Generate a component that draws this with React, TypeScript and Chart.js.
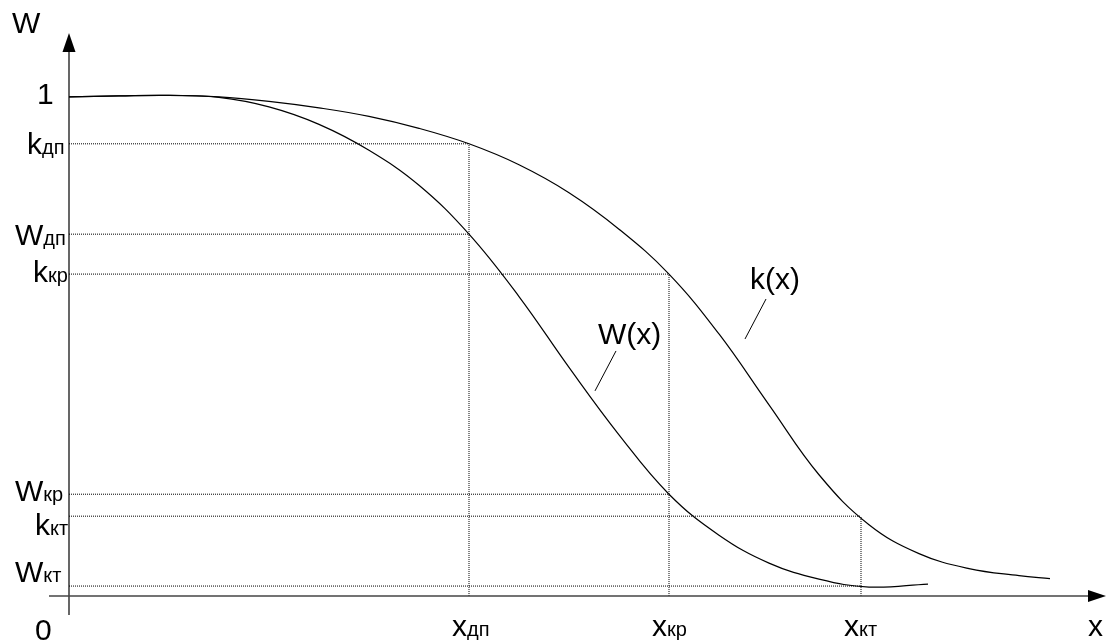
import React, { useEffect, useRef } from "react";
import { Chart, registerables } from "chart.js";

Chart.register(...registerables);

// W(x) curve
const wX = [0, 0.5, 1.0, 1.5, 2.0, 2.5, 3.0, 3.5, 4.0, 4.5, 5.0, 5.5, 6.0, 6.5, 7.0, 7.5, 8.0, 8.59];
const wY = [1.0, 1.002, 1.003, 0.999, 0.98, 0.945, 0.893, 0.823, 0.725, 0.6, 0.458, 0.323, 0.204, 0.122, 0.066, 0.034, 0.018, 0.024];

// k(x) curve
const kX = [0, 0.5, 1.0, 1.5, 2.0, 2.5, 3.0, 3.5, 4.0, 4.5, 5.0, 5.5, 6.0, 6.5, 7.0, 7.5, 8.0, 8.5, 9.0, 9.5, 9.81];
const kY = [1.0, 1.002, 1.003, 1.0, 0.991, 0.978, 0.961, 0.937, 0.906, 0.864, 0.808, 0.735, 0.645, 0.525, 0.383, 0.243, 0.143, 0.085, 0.055, 0.041, 0.035];

// characteristic points
const xMarks = [4.0, 6.0, 7.92];
const kMarks = [0.906, 0.645, 0.16];
const wMarks = [0.725, 0.204, 0.02];
const subLabels = ["дп", "кр", "кт"];

const X_MIN = -0.2;
const X_MAX = 10.31;
const Y_MIN = -0.038;
const Y_MAX = 1.128;

const FONT = "'Liberation Sans', Arial, sans-serif";

function pts(xs: number[], ys: number[]) {
  return xs.map((x, i) => ({ x, y: ys[i] }));
}

export default function App() {
  const ref = useRef<HTMLCanvasElement | null>(null);

  useEffect(() => {
    if (!ref.current) return;

    const guide = (data: { x: number; y: number }[]) => ({
      data,
      borderColor: "#000",
      borderWidth: 1,
      borderDash: [1, 1],
      pointRadius: 0,
      tension: 0,
      fill: false,
    });

    const guides: any[] = [];
    xMarks.forEach((xm, i) => {
      guides.push(guide([{ x: 0, y: kMarks[i] }, { x: xm, y: kMarks[i] }]));
      guides.push(guide([{ x: 0, y: wMarks[i] }, { x: xm, y: wMarks[i] }]));
      guides.push(guide([{ x: xm, y: 0 }, { x: xm, y: kMarks[i] }]));
    });

    const drawSub = (
      ctx: CanvasRenderingContext2D,
      main: string,
      sub: string,
      left: number,
      baseline: number,
      mainSize = 30,
      subSize = 20
    ) => {
      ctx.font = `${mainSize}px ${FONT}`;
      ctx.fillText(main, left, baseline);
      const w = ctx.measureText(main).width;
      if (sub) {
        ctx.font = `${subSize}px ${FONT}`;
        ctx.fillText(sub, left + w, baseline);
      }
    };

    const axesPlugin = {
      id: "axesAndLabels",
      afterDraw(chart: any) {
        const ctx: CanvasRenderingContext2D = chart.ctx;
        const xs = chart.scales.x;
        const ys = chart.scales.y;
        const area = chart.chartArea;
        const x0 = xs.getPixelForValue(0);
        const y0 = ys.getPixelForValue(0);
        ctx.save();
        // y axis
        ctx.strokeStyle = "#000";
        ctx.lineWidth = 1.2;
        ctx.beginPath();
        ctx.moveTo(x0, area.bottom);
        ctx.lineTo(x0, area.top + 18);
        ctx.stroke();
        ctx.fillStyle = "#000";
        ctx.beginPath();
        ctx.moveTo(x0, area.top);
        ctx.lineTo(x0 - 6.5, area.top + 19);
        ctx.lineTo(x0 + 6.5, area.top + 19);
        ctx.closePath();
        ctx.fill();
        // x axis
        ctx.strokeStyle = "#444";
        ctx.lineWidth = 1.6;
        ctx.beginPath();
        ctx.moveTo(area.left, y0);
        ctx.lineTo(area.right - 6, y0);
        ctx.stroke();
        ctx.beginPath();
        ctx.moveTo(area.right + 6, y0);
        ctx.lineTo(area.right - 12, y0 - 6);
        ctx.lineTo(area.right - 12, y0 + 6);
        ctx.closePath();
        ctx.fill();

        // labels
        ctx.fillStyle = "#000";
        ctx.textBaseline = "alphabetic";
        ctx.textAlign = "left";
        drawSub(ctx, "W", "", 12, 33, 30);
        drawSub(ctx, "1", "", 37, ys.getPixelForValue(1) + 7, 30);
        drawSub(ctx, "0", "", 35, 640, 30);
        drawSub(ctx, "x", "", 1088, 636, 30);

        const yLab = [
          { m: "k", s: subLabels[0], v: kMarks[0], l: 27, off: 10 },
          { m: "W", s: subLabels[0], v: wMarks[0], l: 15, off: 11 },
          { m: "k", s: subLabels[1], v: kMarks[1], l: 33, off: 8 },
          { m: "W", s: subLabels[1], v: wMarks[1], l: 15, off: 7 },
          { m: "k", s: subLabels[2], v: kMarks[2], l: 35, off: 19 },
          { m: "W", s: subLabels[2], v: wMarks[2], l: 15, off: -4 },
        ];
        yLab.forEach((o) => drawSub(ctx, o.m, o.s, o.l, ys.getPixelForValue(o.v) + o.off));

        xMarks.forEach((xm, i) => {
          drawSub(ctx, "x", subLabels[i], xs.getPixelForValue(xm) - 17, 636);
        });

        // curve labels with leader lines
        drawSub(ctx, "W(x)", "", xs.getPixelForValue(5.29), ys.getPixelForValue(0.505), 30);
        drawSub(ctx, "k(x)", "", xs.getPixelForValue(6.81), ys.getPixelForValue(0.615), 30);
        ctx.strokeStyle = "#000";
        ctx.lineWidth = 1;
        ctx.beginPath();
        ctx.moveTo(xs.getPixelForValue(5.47), ys.getPixelForValue(0.491));
        ctx.lineTo(xs.getPixelForValue(5.26), ys.getPixelForValue(0.411));
        ctx.moveTo(xs.getPixelForValue(6.97), ys.getPixelForValue(0.595));
        ctx.lineTo(xs.getPixelForValue(6.76), ys.getPixelForValue(0.515));
        ctx.stroke();
        ctx.restore();
      },
    };

    const chart = new Chart(ref.current, {
      type: "line",
      data: {
        datasets: [
          ...guides,
          {
            data: pts(wX, wY),
            borderColor: "#000",
            borderWidth: 1.2,
            pointRadius: 0,
            tension: 0.4,
            fill: false,
          },
          {
            data: pts(kX, kY),
            borderColor: "#000",
            borderWidth: 1.2,
            pointRadius: 0,
            tension: 0.4,
            fill: false,
          },
        ],
      },
      options: {
        responsive: false,
        animation: false,
        events: [],
        layout: {
          autoPadding: false,
          padding: { left: 49, right: 7, top: 33, bottom: 26 },
        },
        plugins: {
          legend: { display: false },
          tooltip: { enabled: false },
        },
        scales: {
          x: { type: "linear", min: X_MIN, max: X_MAX, display: false },
          y: { type: "linear", min: Y_MIN, max: Y_MAX, display: false },
        },
      },
      plugins: [axesPlugin],
    } as any);

    return () => chart.destroy();
  }, []);

  return (
    <div style={{ position: "fixed", left: 0, top: 0, width: 1107, height: 641, background: "#fff" }}>
      <canvas ref={ref} width={1107} height={641} style={{ display: "block" }} />
    </div>
  );
}
